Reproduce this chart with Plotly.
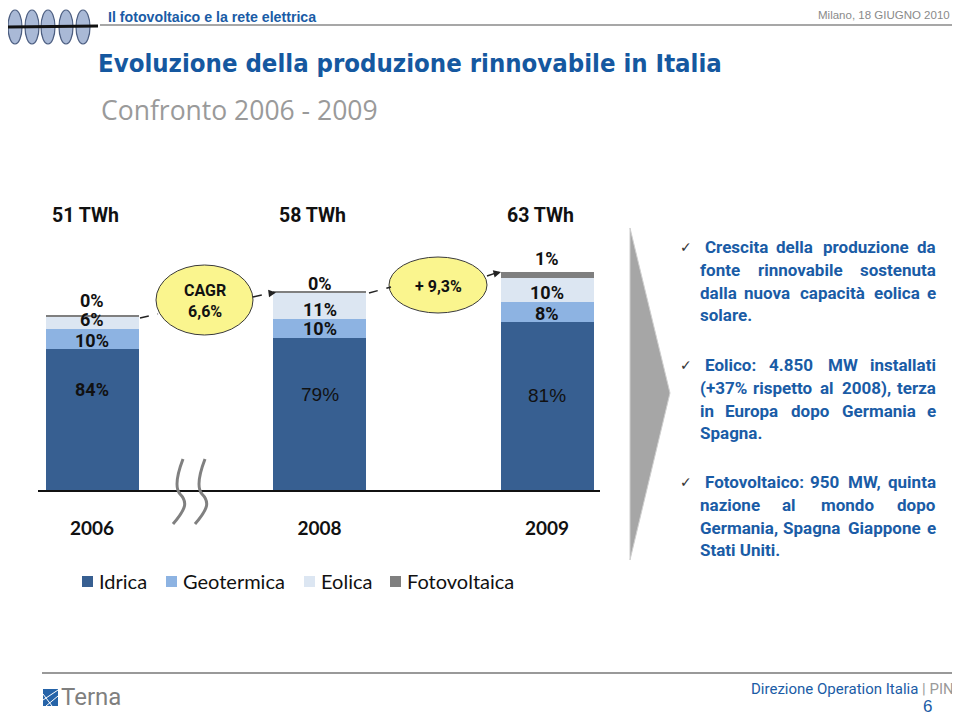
import plotly.graph_objects as go

# the page body adds an 8px margin, so the figure is 952x708 placed at (8, 8)
OFF = 8
W, H = 960 - OFF, 716 - OFF

# ---------------- data ----------------
years = ["2006", "2008", "2009"]
x_pos = [0, 1, 2]
totals_label = ["51 TWh", "58 TWh", "63 TWh"]
idrica = [41.2, 44.4, 49.1]        # TWh
geotermica = [5.8, 5.6, 5.8]
eolica = [3.5, 7.6, 7.0]
fotovoltaica = [0.6, 0.6, 1.7]
idrica_pct = ["84%", "79%", "81%"]
geo_pct = ["10%", "10%", "8%"]
eol_pct = ["6%", "11%", "10%"]
foto_pct = ["0%", "0%", "1%"]
growth_labels = ["CAGR<br>6,6%", "+ 9,3%"]
series_names = ["Idrica", "Geotermica", "Eolica", "Fotovoltaica"]
series_colors = ["#375F91", "#8DB3E2", "#DCE6F2", "#7F7F7F"]

bullet_lines = [
    ["Crescita della produzione da", "fonte rinnovabile sostenuta",
     "dalla nuova capacità eolica e", "solare."],
    ["Eolico:  4.850 MW installati", "(+37% rispetto al 2008), terza",
     "in Europa dopo Germania e", "Spagna."],
    ["Fotovoltaico:  950 MW, quinta", "nazione al mondo dopo",
     "Germania, Spagna Giappone e", "Stati Uniti."],
]

# ---------------- helpers ----------------
COND = "Roboto, DejaVu Sans Condensed, sans-serif"
TITLEF = "DejaVu Sans Condensed, Roboto, sans-serif"
SANS = "Liberation Sans, Arial, Helvetica, sans-serif"
LEGF = "Lato, Open Sans, sans-serif"
BLUE = "#1A5CA6"


def PX(x):
    return (x - OFF) / W


def PY(y):
    return 1 - (y - OFF) / H


BASE_PX = 490.0
PX_PER_TWH = 3.42
X_SCALE = 227.5          # pixels per category step
X_LEFT, X_RIGHT = 38.0, 600.0
r0 = -(92.0 - X_LEFT) / X_SCALE
r1 = r0 + (X_RIGHT - X_LEFT) / X_SCALE

fig = go.Figure()
for name, vals, col in zip(series_names, [idrica, geotermica, eolica, fotovoltaica], series_colors):
    fig.add_trace(go.Bar(
        x=x_pos, y=vals, name=name, marker=dict(color=col, line=dict(width=0)),
        width=93 / X_SCALE, hovertemplate="%{y:.1f} TWh<extra>" + name + "</extra>",
    ))

ann = []
shapes = []


def txt(x, y, t, font, xa="center", ya="middle", xref="paper", **kw):
    d = dict(x=x, y=y, xref=xref, yref="paper", text=t, showarrow=False,
             xanchor=xa, yanchor=ya, font=font)
    d.update(kw)
    ann.append(d)


BOLD = lambda s, c="#111": dict(family=COND, size=s, color=c, weight="bold")

# ---------- bar labels ----------
lbl_rows = [
    (foto_pct, [300, 283, 258]),
    (eol_pct, [320, 309, 292]),
    (geo_pct, [340, 328, 314]),
]
for texts, ys in lbl_rows:
    for i, t in enumerate(texts):
        txt(x_pos[i], PY(ys[i]), t, BOLD(18), xref="x")
idr_y = [389, 394, 395]
for i, t in enumerate(idrica_pct):
    f = BOLD(18) if i == 0 else dict(family=SANS, size=19, color="#111")
    txt(x_pos[i], PY(idr_y[i]), t, f, xref="x")
for i, t in enumerate(totals_label):
    txt(x_pos[i], PY(216), t, BOLD(19.5), xref="x", xshift=-7)

# ---------- growth ellipses ----------
ell = [(156, 265, 253, 335), (389, 257, 487, 313)]
for (x0, y0, x1, y1), t in zip(ell, growth_labels):
    shapes.append(dict(type="circle", xref="paper", yref="paper", x0=PX(x0), x1=PX(x1),
                       y0=PY(y1), y1=PY(y0), fillcolor="#FAF58E",
                       line=dict(color="#3a3a3a", width=1), layer="above"))
    txt(PX((x0 + x1) / 2), PY((y0 + y1) / 2 + 1), t, BOLD(16))

dash_lines = [((140, 318), (158, 314)), ((253, 297), (271, 293)),
              ((369, 293), (391, 287)), ((487, 276), (496, 273))]
for (a, b) in dash_lines:
    shapes.append(dict(type="line", xref="paper", yref="paper", x0=PX(a[0]), y0=PY(a[1]),
                       x1=PX(b[0]), y1=PY(b[1]), line=dict(color="#222", width=1.5, dash="dash")))
for tip, tail in [((276, 292.5), (268, 293.5)), ((501, 272), (493, 274))]:
    ann.append(dict(x=PX(tip[0]), y=PY(tip[1]), xref="paper", yref="paper", text="",
                    showarrow=True, ax=tail[0] - tip[0], ay=tail[1] - tip[1],
                    arrowhead=2, arrowsize=1, arrowwidth=1.5, arrowcolor="#222"))

# ---------- axis break ----------
for dx in (0, 22):
    p = [(183, 459), (178, 472), (174, 487), (180, 494), (188, 502), (186, 509), (173, 524)]
    p = [(x + dx, y) for x, y in p]
    path = "M %f,%f C %f,%f %f,%f %f,%f C %f,%f %f,%f %f,%f" % tuple(
        v for (x, y) in p for v in (PX(x), PY(y)))
    shapes.append(dict(type="path", xref="paper", yref="paper", path=path,
                       line=dict(color="#808080", width=3)))

# ---------- big grey arrow ----------
arrow_pts = [(630, 228), (670, 393), (630, 560)]
shapes.append(dict(type="path", xref="paper", yref="paper",
                   path="M " + " L ".join("%f,%f" % (PX(x), PY(y)) for x, y in arrow_pts) + " Z",
                   fillcolor="#A6A6A6", line=dict(color="#CFCFCF", width=1)))

# ---------- custom legend ----------
leg_sq_x = [82, 166, 304, 390]
for name, col, sx in zip(series_names, series_colors, leg_sq_x):
    shapes.append(dict(type="rect", xref="paper", yref="paper", x0=PX(sx), x1=PX(sx + 11),
                       y0=PY(587), y1=PY(576), fillcolor=col, line=dict(width=0)))
    txt(PX(sx + 15), PY(581), name, dict(family=LEGF, size=20, color="#111"), xa="left")

# ---------- right text (justified by words) ----------
RB = {  # Roboto Bold advance widths (em)
    'a': .546, 'b': .561, 'c': .523, 'd': .563, 'e': .531, 'f': .35, 'g': .563, 'h': .553, 'i': .244,
    'j': .239, 'k': .512, 'l': .244, 'm': .876, 'n': .553, 'o': .57, 'p': .561, 'q': .568, 'r': .345,
    's': .516, 't': .33, 'u': .552, 'v': .493, 'w': .743, 'x': .503, 'y': .488, 'z': .497, 'à': .546,
    'C': .651, 'E': .567, 'F': .556, 'G': .683, 'M': .874, 'S': .61, 'U': .654, 'W': .876,
    '.': .27, ',': .218, ':': .248, '(': .349, ')': .351, '+': .549, '%': .73,
}
FS = 17


def wwidth(word):
    return sum(RB.get(c, .562) for c in word) * FS


RIGHT_EDGE = 938
for bi, lines in enumerate(bullet_lines):
    y0 = [247, 365, 482][bi]
    txt(PX(686), PY(y0), "✓", dict(family="DejaVu Sans", size=14, color="#333"))
    for li, line in enumerate(lines):
        y = y0 + li * 22.8
        left = 703 if li == 0 else 698
        words = line.split()
        font = BOLD(FS, BLUE)
        if li == len(lines) - 1 or len(words) == 1:
            txt(PX(left), PY(y), line, font, xa="left")
            continue
        ws = [wwidth(w) for w in words]
        gap = (RIGHT_EDGE - left - sum(ws)) / (len(words) - 1)
        cur = left
        for wi, (w, wd) in enumerate(zip(words, ws)):
            if wi == 0:
                xa, xx = "left", cur
            elif wi == len(words) - 1:
                xa, xx = "right", RIGHT_EDGE
            else:
                xa, xx = "center", cur + wd / 2
            txt(PX(xx), PY(y), w, font, xa=xa)
            cur += wd + gap

# ---------- header ----------
shapes.append(dict(type="line", xref="paper", yref="paper", x0=PX(100), x1=PX(953),
                   y0=PY(25), y1=PY(25), line=dict(color="#8a8a8a", width=1.5)))
for cx in [15, 32, 48, 66, 83]:
    shapes.append(dict(type="circle", xref="paper", yref="paper", x0=PX(cx - 7), x1=PX(cx + 7),
                       y0=PY(44), y1=PY(10), fillcolor="#A9B9D6",
                       line=dict(color="#4B5D80", width=1.2)))
shapes.append(dict(type="line", xref="paper", yref="paper", x0=PX(8), x1=PX(98),
                   y0=PY(27), y1=PY(26), line=dict(color="#111", width=3), layer="above"))
txt(PX(107), 1, "Il fotovoltaico e la rete elettrica",
    dict(family=SANS, size=14.2, color=BLUE, weight="bold"), xa="left", ya="top", borderpad=0)
txt(PX(951), 1, "Milano, 18 GIUGNO 2010",
    dict(family=SANS, size=11.5, color="#8a8a8a"), xa="right", ya="top", borderpad=0)
txt(PX(96), PY(63), "Evoluzione della produzione rinnovabile in Italia",
    dict(family=TITLEF, size=25.5, color="#1558A0", weight="bold"), xa="left")
txt(PX(99), PY(110), "Confronto 2006 - 2009",
    dict(family="Open Sans", size=26.5, color="#9A9A9A"), xa="left")

# ---------- footer ----------
shapes.append(dict(type="line", xref="paper", yref="paper", x0=PX(42), x1=PX(952),
                   y0=PY(673), y1=PY(673), line=dict(color="#999", width=2)))
shapes.append(dict(type="rect", xref="paper", yref="paper", x0=PX(43), x1=PX(58),
                   y0=PY(706), y1=PY(689), fillcolor="#2563A8", line=dict(width=0)))
for (a, b) in [((43, 700), (58, 690)), ((46, 706), (58, 696)), ((43, 694), (52, 706))]:
    shapes.append(dict(type="line", xref="paper", yref="paper", x0=PX(a[0]), y0=PY(a[1]),
                       x1=PX(b[0]), y1=PY(b[1]), line=dict(color="white", width=1)))
txt(PX(59), PY(697), "Terna", dict(family="Roboto", size=24, color="#7F7F7F"), xa="left")
txt(PX(956), PY(689), "Direzione Operation Italia <span style='color:#9a9a9a'>| PIN</span>",
    dict(family="Roboto", size=15, color=BLUE), xa="right")
txt(PX(927), PY(706), "6", dict(family=SANS, size=17, color=BLUE))

fig.update_layout(
    width=W, height=H, margin=dict(l=0, r=0, t=0, b=0),
    paper_bgcolor="white", plot_bgcolor="white",
    barmode="stack", bargap=0,
    showlegend=False,
    xaxis=dict(domain=[PX(X_LEFT), PX(X_RIGHT)], range=[r0, r1], tickvals=x_pos, ticktext=years,
               showline=True, linecolor="#111", linewidth=1.5, ticks="", showgrid=False,
               zeroline=False, ticklabelstandoff=20, fixedrange=True,
               tickfont=dict(family=LEGF, size=19, color="#111", weight="bold")),
    yaxis=dict(domain=[PY(BASE_PX), 1], range=[0, (BASE_PX - OFF) / PX_PER_TWH], visible=False,
               fixedrange=True),
    annotations=ann, shapes=shapes,
)

fig.write_html("out.html")
